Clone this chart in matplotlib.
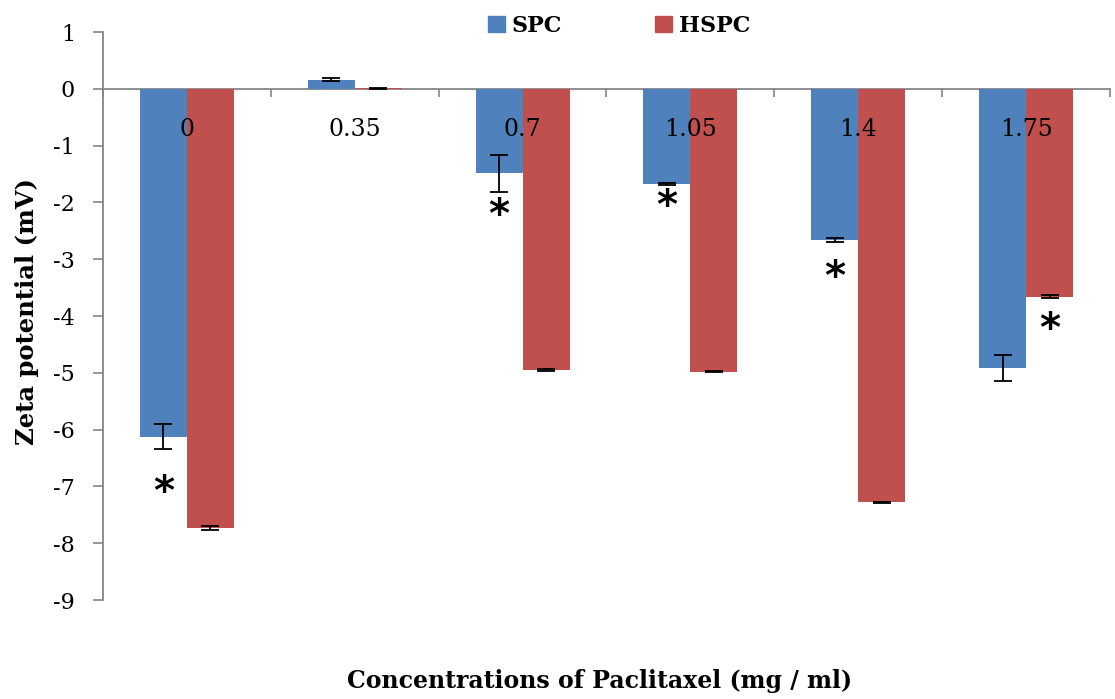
import matplotlib
matplotlib.use("Agg")
import matplotlib.pyplot as plt
import matplotlib.transforms as mtransforms
from matplotlib.patches import Patch
import numpy as np

# ---- data ----
categories = ["0", "0.35", "0.7", "1.05", "1.4", "1.75"]
spc_values = [-6.13, 0.16, -1.49, -1.67, -2.66, -4.92]
spc_errors = [0.22, 0.03, 0.33, 0.02, 0.03, 0.23]
hspc_values = [-7.73, 0.01, -4.95, -4.98, -7.28, -3.66]
hspc_errors = [0.04, 0.01, 0.01, 0.01, 0.01, 0.03]
# significance marks: (category index, series, y position)
star_cat = [0, 2, 3, 4, 5]
star_series = ["SPC", "SPC", "SPC", "SPC", "HSPC"]
star_y = [-6.96, -2.07, -1.92, -3.17, -4.09]
yticks = [1, 0, -1, -2, -3, -4, -5, -6, -7, -8, -9]

blue = "#4F81BD"
red = "#C0504D"
grey = "#868686"
serif = ["DejaVu Serif"]

fig = plt.figure(figsize=(11.15, 6.99), dpi=100)
ax = fig.add_axes([103/1115, 1-600/699, (1110-103)/1115, (600-32)/699])

x = np.arange(len(categories))
w = 0.28
err_kw = dict(ecolor="black", elinewidth=1.3, capsize=6.5, capthick=1.3)
ax.bar(x - w/2, spc_values, w, color=blue, yerr=spc_errors, error_kw=err_kw,
       label="SPC", zorder=2)
ax.bar(x + w/2, hspc_values, w, color=red, yerr=hspc_errors, error_kw=err_kw,
       label="HSPC", zorder=2)

ax.set_xlim(-0.5, len(categories) - 0.5)
ax.set_ylim(-9, 1)

for s in ["top", "right"]:
    ax.spines[s].set_visible(False)
ax.spines["bottom"].set_position(("data", 0))
ax.spines["left"].set_bounds(-9, 1)
for s in ["bottom", "left"]:
    ax.spines[s].set_color(grey)
    ax.spines[s].set_linewidth(1.3)
    ax.spines[s].set_zorder(1)

ax.set_yticks(yticks)
ax.set_yticklabels([str(t) for t in yticks], fontfamily=serif, fontsize=16)
ax.tick_params(axis="y", direction="out", length=7, width=1.2, color=grey,
               pad=13, labelcolor="black")

ax.set_xticks(np.arange(len(categories) + 1) - 0.5)
ax.set_xticklabels([])
ax.tick_params(axis="x", which="major", direction="out", length=6, width=1.2,
               color=grey)
ax.set_xticks(x, minor=True)
ax.set_xticklabels(categories, minor=True, fontfamily=serif, fontsize=17)
ax.tick_params(axis="x", which="minor", length=0, pad=21, labelcolor="black")
ax.xaxis.set_zorder(5)

# significance asterisks
fs_star = 29
off = mtransforms.offset_copy(ax.transData, fig=fig, x=0, y=-0.5 * fs_star,
                              units="points")
for ci, ser, yy in zip(star_cat, star_series, star_y):
    xx = ci - w/2 if ser == "SPC" else ci + w/2
    ax.text(xx, yy, "*", ha="center", va="baseline", fontsize=fs_star,
            fontweight="bold", family="DejaVu Sans", color="black",
            transform=off, zorder=5)

fig.text(27/1115, 1-312/699, "Zeta potential (mV)", rotation=90,
         ha="center", va="center", fontsize=17.5, fontweight="bold",
         family=serif)
fig.text(600/1115, 1-681/699, "Concentrations of Paclitaxel (mg / ml)",
         ha="center", va="center", fontsize=17, fontweight="bold",
         family=serif)

handles = [Patch(color=blue, label="SPC"), Patch(color=red, label="HSPC")]
leg = fig.legend(handles=handles, loc="center", bbox_to_anchor=(619/1115, 1-26/699),
                 ncol=2, frameon=False, handlelength=0.75, handleheight=0.75,
                 handletextpad=0.3, columnspacing=4.2,
                 prop=dict(family=serif, weight="bold", size=16))

fig.savefig("out.png", dpi=100)
